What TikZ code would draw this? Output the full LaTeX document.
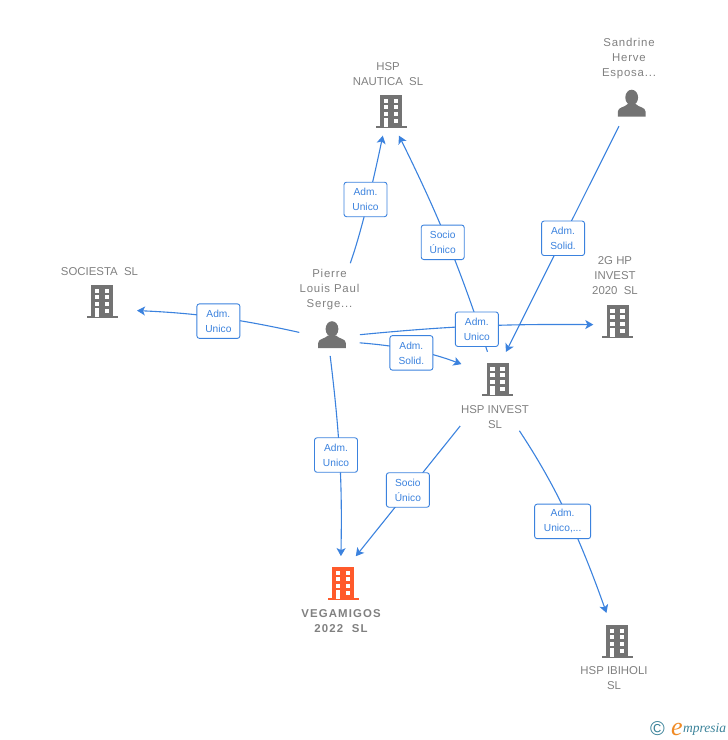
\documentclass[tikz,border=0pt]{standalone}
\usepackage{fontspec}
\setmainfont{Liberation Sans}
\newfontfamily\brandfont{Liberation Serif}
\usetikzlibrary{arrows.meta}
\definecolor{linkBlue}{HTML}{3B82DE}
\definecolor{iconGrey}{HTML}{737373}
\definecolor{iconOrange}{HTML}{FF5A2B}
\definecolor{textGrey}{HTML}{808080}
\definecolor{brandTeal}{HTML}{3A8299}
\definecolor{brandOrange}{HTML}{F08A24}
\tikzset{
  hub/.style={circle,minimum size=42pt,inner sep=0pt,outer sep=0pt},
  caption/.style={align=center,text=textGrey,font=\fontsize{11.4}{15}\selectfont,inner sep=0pt},
  spaced/.style={font=\fontsize{11.4}{15}\selectfont\addfontfeature{LetterSpace=7}},
  tag/.style={draw=linkBlue,fill=white,rounded corners=2.5pt,line width=.9pt,align=center,
    text=linkBlue,font=\fontsize{10.2}{15}\selectfont,minimum width=43pt,minimum height=34.5pt,inner sep=0pt},
  link/.style={draw=linkBlue,line width=1.1pt,-{Stealth[length=8pt,width=9pt,inset=2pt]}},
  pics/building/.style={code={
    \fill[#1] (-11,-16) rectangle (11,15.5);
    \fill[#1] (-15.5,15) rectangle (15.5,17);
    \foreach \px in {-5,5}
      \foreach \py in {-10,-4,3}
        \fill[white] (\px-2.3,\py-2.2) rectangle (\px+2.3,\py+2.2);
    \fill[white] (5-2.3,10-2.2) rectangle (5+2.3,10+2.2);
    \fill[white] (-5-2.3,7) rectangle (-5+2.3,15.5);
  }},
  pics/person/.style={code={
    \fill[iconGrey] (0,-6) ellipse [x radius=6.4,y radius=7.8];
    \fill[iconGrey] (-13.8,13) -- (-13.8,8) .. controls (-13.8,3.5) and (-7,4) .. (-4,0.5)
      -- (4,0.5) .. controls (7,4) and (13.8,3.5) .. (13.8,8) -- (13.8,13) -- cycle;
  }}
}
\begin{document}
\begin{tikzpicture}[x=1pt,y=-1pt]
  \useasboundingbox (0,0) rectangle (728,740);

  \begin{scope}[every node/.style={hub}]
    \node (nautica)  at (391,111) {};
    \node (sandrine) at (631.7,103.5) {};
    \node (sociesta) at (102,301) {};
    \node (pierre)   at (332,335) {};
    \node (twog)     at (617.5,321) {};
    \node (invest)   at (497.5,379) {};
    \node (vegamigos) at (343,583) {};
    \node (ibiholi)  at (617,641) {};
  \end{scope}

  \foreach \n in {nautica,sociesta,twog,invest,ibiholi}
    \pic at (\n) {building=iconGrey};
  \pic at (vegamigos) {building=iconOrange};
  \foreach \n in {pierre,sandrine}
    \pic at (\n) {person};

  \begin{scope}[every node/.style={caption}]
    \node (nauticaT)  at (388,74.5) {HSP\\NAUTICA~~SL};
    \node[spaced] (sandrineT) at (629,59) {Sandrine\\Herve\\Esposa...};
    \node (sociestaT) at (99.5,272) {SOCIESTA~~SL};
    \node[spaced] (pierreT)   at (329.5,290) {Pierre\\Louis Paul\\Serge...};
    \node (twogT)     at (615,276) {2G HP\\INVEST\\2020~~SL};
    \node (investT)   at (495,417.5) {HSP INVEST\\SL};
    \node[font=\fontsize{11.4}{15}\selectfont\bfseries\addfontfeature{LetterSpace=10}] (vegamigosT) at (341,621.5) {VEGAMIGOS\\2022~~SL};
    \node (ibiholiT)  at (614,678.5) {HSP IBIHOLI\\SL};
  \end{scope}

  \path (pierre.180) edge[link,bend right=5,shorten <=12pt,shorten >=16pt]
    node[tag,pos=.49,yshift=-3.3pt] (tagSociesta) {Adm.\\Unico} (sociesta.-25);
  \path (pierre.90) edge[link,bend right=4,shorten <=54pt,shorten >=5pt]
    node[tag,pos=.65,xshift=-3pt,yshift=-1.5pt] (tagNauticaA) {Adm.\\Unico} (nautica.250);
  \path (invest.111) edge[link,bend right=4,shorten <=8pt,shorten >=5pt]
    node[tag,pos=.51,xshift=-4.5pt,yshift=-1pt] (tagNauticaB) {Socio\\Único} (nautica.-74.4);
  \path (pierre.-1.4) edge[link,bend left=3,shorten <=7pt,shorten >=3.5pt]
    node[tag,pos=.505,xshift=1pt,yshift=-3pt] (tagTwog) {Adm.\\Unico} (twog.190);
  \path (pierre.-20) edge[link,bend left=8,shorten <=8pt,shorten >=18pt]
    node[tag,pos=.47,xshift=-1.3pt,yshift=-2.5pt] (tagInvest) {Adm.\\Solid.} (invest.156.5);
  \path (pierre.265.6) edge[link,bend left=4,shorten >=6pt]
    node[tag,pos=.48,xshift=-3.5pt] (tagVegaA) {Adm.\\Unico} (vegamigos.96.3);
  \path (sandrine.240.6) edge[link,shorten <=5pt,shorten >=7.5pt]
    node[tag,pos=.49,yshift=-.5pt] (tagSandrine) {Adm.\\Solid.} (invest.76.9);
  \path (invest.232.7) edge[link,shorten <=39pt,shorten >=9pt]
    node[tag,pos=.563,xshift=-1pt] (tagVegaB) {Socio\\Único} (vegamigos.70);
  \path (invest.-86) edge[link,bend left=7,shorten <=37pt,shorten >=9pt]
    node[tag,pos=.55,xshift=-4.5pt,yshift=-4.5pt,minimum width=56pt] (tagIbiholi) {Adm.\\Unico,...} (ibiholi.111.4);

  \node[inner sep=0pt,text=brandTeal,font=\fontsize{20}{20}\selectfont] (brandC) at (657.5,729) {©};
  \node[inner sep=0pt,text=brandOrange,font=\brandfont\itshape\fontsize{26}{26}\selectfont] (brandE) at (677,729) {e};
  \node[inner sep=0pt,anchor=west,text=brandTeal,font=\brandfont\itshape\fontsize{13.5}{14}\selectfont] (brandT) at (683,729.5) {mpresia};
\end{tikzpicture}
\end{document}
